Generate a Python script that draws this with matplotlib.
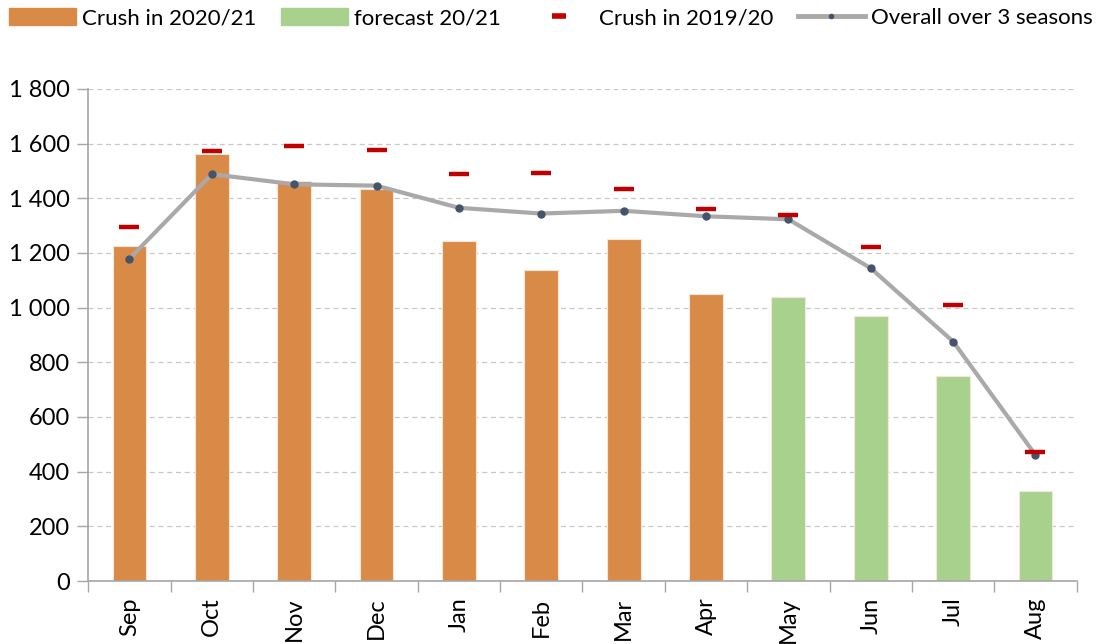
import matplotlib
matplotlib.use("Agg")
import matplotlib.pyplot as plt
from matplotlib.patches import Patch
from matplotlib.lines import Line2D
from matplotlib.ticker import FuncFormatter, MultipleLocator
import numpy as np

plt.rcParams['font.family'] = ['Lato', 'DejaVu Sans']

months = ['Sep', 'Oct', 'Nov', 'Dec', 'Jan', 'Feb', 'Mar', 'Apr', 'May', 'Jun', 'Jul', 'Aug']
# crush 2020/21: actual Sep-Apr, forecast May-Aug
crush_2021 = [1226, 1562, 1462, 1433, 1245, 1138, 1252, 1050, 1040, 970, 749, 329]
is_forecast = [False] * 8 + [True] * 4
crush_1920 = [1296, 1571, 1592, 1578, 1490, 1494, 1432, 1362, 1337, 1223, 1011, 473]
overall_3s = [1179, 1488, 1451, 1446, 1365, 1344, 1354, 1334, 1323, 1144, 876, 461]

c_orange = '#D98A47'
c_green = '#A9D18E'
c_red = '#C00000'
c_grey = '#ABA8A8'
c_dot = '#44546A'

fig = plt.figure(figsize=(11.02, 6.44), dpi=100)
ax = fig.add_axes([0.0801, 0.0978, 0.8969, 0.7642])

x = np.arange(len(months))
cols = [c_green if f else c_orange for f in is_forecast]
ax.bar(x, crush_2021, width=0.41, color=cols, edgecolor='#F5E6DA', linewidth=0.8, zorder=2)
ax.plot(x, overall_3s, color=c_grey, lw=3, marker='o', ms=5, mfc=c_dot, mec=c_dot, zorder=3)
ax.plot(x, crush_1920, ls='none', marker='_', ms=14, mew=3.2, color=c_red, zorder=4)

ax.set_xlim(-0.5, len(months) - 0.5)
ax.set_ylim(0, 1800)
ax.yaxis.set_major_locator(MultipleLocator(200))
ax.yaxis.set_major_formatter(FuncFormatter(lambda v, p: f'{int(v):,}'.replace(',', ' ')))
ax.grid(axis='y', color='#C8C8C8', ls=(0, (4, 3)), lw=0.9, zorder=0)

ax.set_xticks(x)
ax.set_xticklabels(months, rotation=90)
ax.set_xticks(np.arange(-0.5, len(months)), minor=True)
ax.tick_params(axis='x', which='major', length=0, pad=12, labelsize=17)
ax.tick_params(axis='x', which='minor', length=8, color='#A6A6A6', width=1)
ax.tick_params(axis='y', length=8, color='#A6A6A6', width=1, labelsize=17, pad=5)

for s in ['top', 'right']:
    ax.spines[s].set_visible(False)
for s in ['left', 'bottom']:
    ax.spines[s].set_color('#A6A6A6')
    ax.spines[s].set_linewidth(1.2)

handles = [
    Patch(color=c_orange, label='Crush in 2020/21'),
    Patch(color=c_green, label='forecast 20/21'),
    Line2D([], [], ls='none', marker='_', ms=10, mew=4, color=c_red, label='Crush in 2019/20'),
    Line2D([], [], color=c_grey, lw=3.5, marker='o', ms=3, mfc=c_dot, mec=c_dot, label='Overall over 3 seasons'),
]
fig.legend(handles=handles, loc='center', bbox_to_anchor=(0.5, 0.972), ncol=4, frameon=False,
           fontsize=16, handlelength=3.0, handleheight=0.8, handletextpad=0.3, columnspacing=1.1,
           borderaxespad=0)

fig.savefig('out.png', dpi=100)
